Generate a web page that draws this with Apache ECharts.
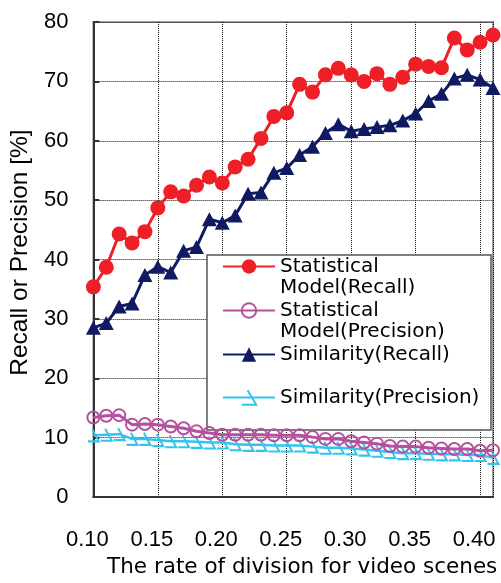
<!DOCTYPE html>
<html>
<head>
<meta charset="utf-8">
<script src="https://cdn.jsdelivr.net/npm/echarts@6/dist/echarts.min.js"></script>
<style>
  html, body { margin: 0; padding: 0; background: #fff; }
  #chart { width: 501px; height: 583px; }
</style>
</head>
<body>
<div id="chart"></div>
<script>
// Rate of division for video scenes (x values)
const divisionRates = [0.10, 0.11, 0.12, 0.13, 0.14, 0.15, 0.16, 0.17, 0.18, 0.19,
                       0.20, 0.21, 0.22, 0.23, 0.24, 0.25, 0.26, 0.27, 0.28, 0.29,
                       0.30, 0.31, 0.32, 0.33, 0.34, 0.35, 0.36, 0.37, 0.38, 0.39,
                       0.40, 0.41];

// Recall / precision in percent
const statisticalRecall = [35.4, 38.7, 44.3, 42.8, 44.7, 48.7, 51.4, 50.7, 52.5, 53.9,
                           52.9, 55.6, 56.9, 60.4, 64.1, 64.7, 69.5, 68.2, 71.1, 72.2,
                           71.1, 70.0, 71.3, 69.5, 70.7, 72.9, 72.5, 72.3, 77.3, 75.3,
                           76.6, 77.8];
const statisticalPrecision = [13.4, 13.7, 13.8, 12.2, 12.3, 12.2, 11.9, 11.6, 11.1, 10.8,
                              10.5, 10.5, 10.5, 10.5, 10.4, 10.4, 10.4, 10.1, 9.8, 9.8,
                              9.4, 9.2, 9.0, 8.6, 8.5, 8.5, 8.3, 8.2, 8.1, 8.1,
                              7.8, 7.9];
const similarityRecall = [28.5, 29.3, 32.1, 32.6, 37.4, 38.8, 37.8, 41.5, 42.1, 46.8,
                          46.2, 47.4, 51.1, 51.3, 54.6, 55.4, 57.6, 59.0, 61.3, 62.8,
                          61.6, 62.0, 62.3, 62.6, 63.4, 64.6, 66.7, 67.9, 70.5, 71.1,
                          70.3, 68.9];
const similarityPrecision = [10.4, 10.5, 10.6, 9.8, 9.8, 9.6, 9.4, 9.4, 9.3, 9.2,
                             9.2, 8.9, 8.8, 8.8, 8.7, 8.7, 8.7, 8.5, 8.3, 8.3,
                             8.2, 8.0, 7.8, 7.6, 7.4, 7.4, 7.3, 7.2, 7.2, 7.1,
                             7.1, 6.6];

const seriesNames = [
  'Statistical Model(Recall)',
  'Statistical Model(Precision)',
  'Similarity(Recall)',
  'Similarity(Precision)'
];
// Two-line legend labels start with an empty line so that the icon sits
// level with the first visible line.
const legendLabels = [
  '\nStatistical\nModel(Recall)',
  '\nStatistical\nModel(Precision)',
  'Similarity(Recall)',
  'Similarity(Precision)'
];

const xTitle = 'The rate of division for video scenes';
const yTitle = 'Recall or Precision [%]';

const pairs = (ys) => divisionRates.map((x, i) => [x, ys[i]]);

const RED = '#EE1F26';
const MAGENTA = '#B5509F';
const NAVY = '#101A62';
const CYAN = '#33C4EE';

const numFont = 'Liberation Sans, Arial, sans-serif';
const textFont = 'DejaVu Sans, sans-serif';

// Open "slanted hook" marker used for the similarity precision series
const hookSymbol = 'path://M4,0 L10,12 L0,12';

function legendBlock(idx, top) {
  return {
    show: true,
    data: [seriesNames[idx]],
    orient: 'vertical',
    left: 222,
    top: top,
    padding: 0,
    itemGap: 0,
    itemWidth: 52,
    itemHeight: 18,
    selectedMode: false,
    formatter: () => legendLabels[idx],
    textStyle: {
      fontFamily: textFont,
      fontSize: 20,
      lineHeight: 21,
      color: '#000'
    }
  };
}

const chart = echarts.init(document.getElementById('chart'), null, { renderer: 'canvas' });

chart.setOption({
  animation: false,
  backgroundColor: '#fff',
  grid: {
    left: 91, right: 8, top: 22, bottom: 75,
    show: true,
    borderColor: '#9c9c9c',
    borderWidth: 2,
    backgroundColor: 'transparent'
  },
  xAxis: {
    type: 'value',
    min: 0.10,
    max: 0.41,
    interval: 0.05,
    name: xTitle,
    nameLocation: 'middle',
    nameGap: 52,
    nameTextStyle: {
      fontFamily: textFont, fontSize: 21.5, color: '#000',
      padding: [0, 0, 0, 18]
    },
    axisLine: { show: true, onZero: false, lineStyle: { color: '#333', width: 2 } },
    axisTick: { show: false },
    axisLabel: {
      showMaxLabel: false,
      margin: 32,
      fontFamily: numFont, fontSize: 22, color: '#000',
      padding: [0, 12, 0, 0],
      formatter: (v) => v.toFixed(2)
    },
    splitLine: { show: true, lineStyle: { color: '#111', width: 1, type: 'dotted' } }
  },
  yAxis: {
    type: 'value',
    min: 0,
    max: 80,
    interval: 10,
    name: yTitle,
    nameLocation: 'middle',
    nameGap: 50,
    nameRotate: 90,
    nameTextStyle: {
      fontFamily: numFont, fontSize: 24.5, color: '#000',
      padding: [0, 0, 0, 14]
    },
    axisLine: { show: true, lineStyle: { color: '#333', width: 2 } },
    axisTick: { show: true, inside: true, length: 6, lineStyle: { color: '#333', width: 2 } },
    axisLabel: { margin: 25, fontFamily: numFont, fontSize: 22, color: '#000' },
    splitLine: { show: true, lineStyle: { color: '#111', width: 1, type: 'dotted' } }
  },
  graphic: [{
    type: 'rect',
    z: 3,
    shape: { x: 207, y: 255, width: 284, height: 175 },
    style: { fill: '#fff', stroke: '#555', lineWidth: 1.5 }
  }],
  legend: [
    legendBlock(0, 267 - 32),
    legendBlock(1, 311 - 32),
    legendBlock(2, 355 - 11),
    legendBlock(3, 398 - 11)
  ],
  series: [
    {
      name: seriesNames[0],
      type: 'line',
      data: pairs(statisticalRecall),
      symbol: 'circle',
      symbolSize: 15,
      lineStyle: { color: RED, width: 3 },
      itemStyle: { color: RED },
      z: 5
    },
    {
      name: seriesNames[1],
      type: 'line',
      data: pairs(statisticalPrecision),
      symbol: 'circle',
      symbolSize: 12,
      lineStyle: { color: MAGENTA, width: 3 },
      itemStyle: { color: 'rgba(0,0,0,0)', borderColor: MAGENTA, borderWidth: 2 },
      z: 4
    },
    {
      name: seriesNames[2],
      type: 'line',
      data: pairs(similarityRecall),
      symbol: 'triangle',
      symbolSize: [15, 14],
      lineStyle: { color: NAVY, width: 3 },
      itemStyle: { color: NAVY },
      z: 4
    },
    {
      name: seriesNames[3],
      type: 'line',
      data: pairs(similarityPrecision),
      symbol: hookSymbol,
      symbolSize: [11, 12],
      lineStyle: { color: CYAN, width: 2.5 },
      itemStyle: { color: 'rgba(0,0,0,0)', borderColor: CYAN, borderWidth: 2 },
      z: 3
    }
  ]
});
</script>
</body>
</html>
